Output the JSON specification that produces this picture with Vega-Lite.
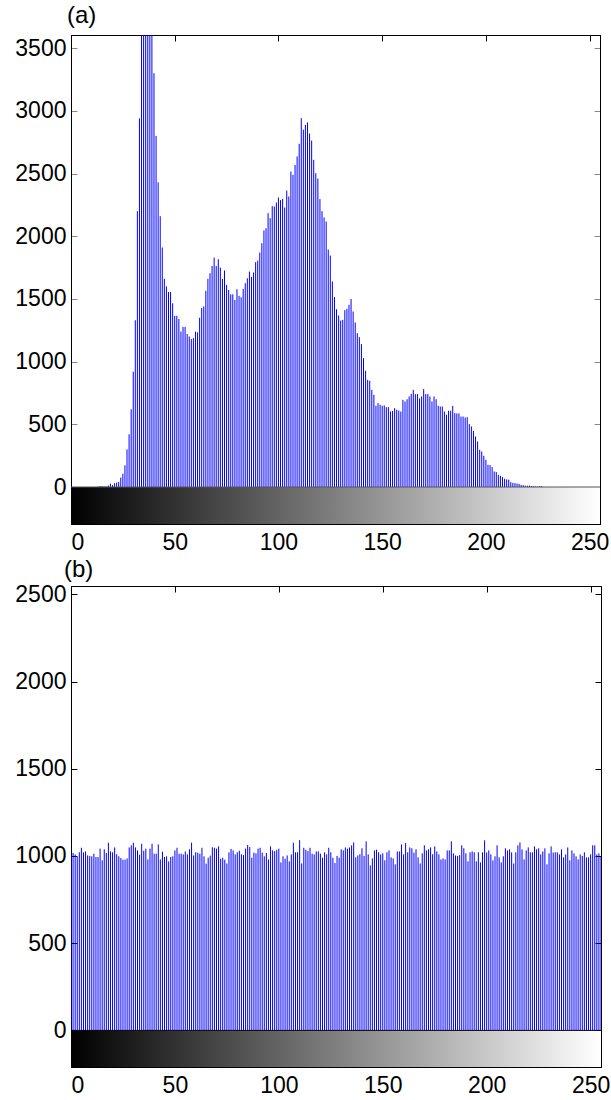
{
  "$schema": "https://vega.github.io/schema/vega-lite/v6.json",
  "background": "white",
  "padding": {"left": 14, "right": 0, "top": 3, "bottom": 2},
  "spacing": 2,
  "config": {
    "font": "Liberation Sans",
    "view": {"stroke": "black", "strokeWidth": 1},
    "axis": {"labelFont": "Liberation Sans", "labelFontSize": 23, "labelColor": "#000", "domainColor": "#000", "tickColor": "#000", "tickSize": -6, "grid": false, "labelPadding": 11, "format": "d"},
    "title": {"font": "Liberation Sans", "fontSize": 24, "fontWeight": "normal", "anchor": "start", "color": "#000", "frame": "group"}
  },
  "datasets": {
    "a": [
      {"level":0,"count":0},{"level":1,"count":0},{"level":2,"count":0},{"level":3,"count":0},{"level":4,"count":0},{"level":5,"count":0},{"level":6,"count":0},{"level":7,"count":0},{"level":8,"count":0},{"level":9,"count":0},
      {"level":10,"count":0},{"level":11,"count":0},{"level":12,"count":0},{"level":13,"count":3},{"level":14,"count":8},{"level":15,"count":8},{"level":16,"count":4},{"level":17,"count":5},{"level":18,"count":12},{"level":19,"count":27},
      {"level":20,"count":15},{"level":21,"count":30},{"level":22,"count":35},{"level":23,"count":40},{"level":24,"count":75},{"level":25,"count":106},{"level":26,"count":173},{"level":27,"count":300},{"level":28,"count":420},{"level":29,"count":620},
      {"level":30,"count":920},{"level":31,"count":1330},{"level":32,"count":2200},{"level":33,"count":2940},{"level":34,"count":3900},{"level":35,"count":4000},{"level":36,"count":4200},{"level":37,"count":4100},{"level":38,"count":3950},{"level":39,"count":3800},
      {"level":40,"count":3300},{"level":41,"count":2800},{"level":42,"count":2430},{"level":43,"count":2160},{"level":44,"count":1910},{"level":45,"count":1660},{"level":46,"count":1600},{"level":47,"count":1555},{"level":48,"count":1555},{"level":49,"count":1465},
      {"level":50,"count":1365},{"level":51,"count":1365},{"level":52,"count":1340},{"level":53,"count":1240},{"level":54,"count":1277},{"level":55,"count":1277},{"level":56,"count":1220},{"level":57,"count":1200},{"level":58,"count":1180},{"level":59,"count":1187},
      {"level":60,"count":1240},{"level":61,"count":1234},{"level":62,"count":1350},{"level":63,"count":1428},{"level":64,"count":1440},{"level":65,"count":1565},{"level":66,"count":1660},{"level":67,"count":1705},{"level":68,"count":1763},{"level":69,"count":1830},
      {"level":70,"count":1763},{"level":71,"count":1817},{"level":72,"count":1750},{"level":73,"count":1660},{"level":74,"count":1727},{"level":75,"count":1612},{"level":76,"count":1572},{"level":77,"count":1537},{"level":78,"count":1537},{"level":79,"count":1492},
      {"level":80,"count":1577},{"level":81,"count":1524},{"level":82,"count":1513},{"level":83,"count":1580},{"level":84,"count":1625},{"level":85,"count":1665},{"level":86,"count":1718},{"level":87,"count":1676},{"level":88,"count":1711},{"level":89,"count":1793},
      {"level":90,"count":1806},{"level":91,"count":1870},{"level":92,"count":1945},{"level":93,"count":2046},{"level":94,"count":2064},{"level":95,"count":2184},{"level":96,"count":2144},{"level":97,"count":2240},{"level":98,"count":2237},{"level":99,"count":2269},
      {"level":100,"count":2309},{"level":101,"count":2288},{"level":102,"count":2298},{"level":103,"count":2229},{"level":104,"count":2365},{"level":105,"count":2317},{"level":106,"count":2516},{"level":107,"count":2490},{"level":108,"count":2569},{"level":109,"count":2636},
      {"level":110,"count":2737},{"level":111,"count":2942},{"level":112,"count":2850},{"level":113,"count":2888},{"level":114,"count":2907},{"level":115,"count":2819},{"level":116,"count":2763},{"level":117,"count":2609},{"level":118,"count":2503},{"level":119,"count":2460},
      {"level":120,"count":2296},{"level":121,"count":2200},{"level":122,"count":2150},{"level":123,"count":2117},{"level":124,"count":1894},{"level":125,"count":1846},{"level":126,"count":1639},{"level":127,"count":1515},{"level":128,"count":1418},{"level":129,"count":1368},
      {"level":130,"count":1328},{"level":131,"count":1333},{"level":132,"count":1411},{"level":133,"count":1421},{"level":134,"count":1453},{"level":135,"count":1500},{"level":136,"count":1400},{"level":137,"count":1312},{"level":138,"count":1227},{"level":139,"count":1195},
      {"level":140,"count":1140},{"level":141,"count":1028},{"level":142,"count":927},{"level":143,"count":855},{"level":144,"count":847},{"level":145,"count":775},{"level":146,"count":735},{"level":147,"count":648},{"level":148,"count":669},{"level":149,"count":656},
      {"level":150,"count":648},{"level":151,"count":650},{"level":152,"count":637},{"level":153,"count":637},{"level":154,"count":602},{"level":155,"count":606},{"level":156,"count":629},{"level":157,"count":616},{"level":158,"count":610},{"level":159,"count":602},
      {"level":160,"count":695},{"level":161,"count":682},{"level":162,"count":700},{"level":163,"count":722},{"level":164,"count":743},{"level":165,"count":775},{"level":166,"count":741},{"level":167,"count":741},{"level":168,"count":706},{"level":169,"count":722},
      {"level":170,"count":781},{"level":171,"count":741},{"level":172,"count":741},{"level":173,"count":722},{"level":174,"count":682},{"level":175,"count":722},{"level":176,"count":700},{"level":177,"count":648},{"level":178,"count":642},{"level":179,"count":642},
      {"level":180,"count":602},{"level":181,"count":576},{"level":182,"count":608},{"level":183,"count":608},{"level":184,"count":647},{"level":185,"count":589},{"level":186,"count":587},{"level":187,"count":587},{"level":188,"count":562},{"level":189,"count":562},
      {"level":190,"count":554},{"level":191,"count":557},{"level":192,"count":502},{"level":193,"count":483},{"level":194,"count":448},{"level":195,"count":403},{"level":196,"count":363},{"level":197,"count":297},{"level":198,"count":283},{"level":199,"count":249},
      {"level":200,"count":217},{"level":201,"count":177},{"level":202,"count":175},{"level":203,"count":159},{"level":204,"count":124},{"level":205,"count":119},{"level":206,"count":97},{"level":207,"count":89},{"level":208,"count":79},{"level":209,"count":66},
      {"level":210,"count":61},{"level":211,"count":59},{"level":212,"count":39},{"level":213,"count":33},{"level":214,"count":31},{"level":215,"count":28},{"level":216,"count":25},{"level":217,"count":17},{"level":218,"count":15},{"level":219,"count":11},
      {"level":220,"count":11},{"level":221,"count":11},{"level":222,"count":8},{"level":223,"count":6},{"level":224,"count":5},{"level":225,"count":4},{"level":226,"count":8},{"level":227,"count":8},{"level":228,"count":0},{"level":229,"count":0},
      {"level":230,"count":0},{"level":231,"count":0},{"level":232,"count":0},{"level":233,"count":0},{"level":234,"count":0},{"level":235,"count":0},{"level":236,"count":0},{"level":237,"count":0},{"level":238,"count":0},{"level":239,"count":0},
      {"level":240,"count":0},{"level":241,"count":0},{"level":242,"count":0},{"level":243,"count":0},{"level":244,"count":0},{"level":245,"count":0},{"level":246,"count":0},{"level":247,"count":0},{"level":248,"count":0},{"level":249,"count":0},
      {"level":250,"count":0},{"level":251,"count":0},{"level":252,"count":0},{"level":253,"count":0},{"level":254,"count":0},{"level":255,"count":0}
    ],
    "b": [
      {"level":0,"count":1013},{"level":1,"count":1017},{"level":2,"count":1009},{"level":3,"count":994},{"level":4,"count":1021},{"level":5,"count":1047},{"level":6,"count":1021},{"level":7,"count":1026},{"level":8,"count":1003},{"level":9,"count":1000},
      {"level":10,"count":998},{"level":11,"count":1013},{"level":12,"count":994},{"level":13,"count":994},{"level":14,"count":1042},{"level":15,"count":975},{"level":16,"count":1038},{"level":17,"count":1017},{"level":18,"count":1076},{"level":19,"count":1026},
      {"level":20,"count":1021},{"level":21,"count":1049},{"level":22,"count":1010},{"level":23,"count":998},{"level":24,"count":988},{"level":25,"count":979},{"level":26,"count":979},{"level":27,"count":986},{"level":28,"count":1049},{"level":29,"count":1061},
      {"level":30,"count":1076},{"level":31,"count":1049},{"level":32,"count":1032},{"level":33,"count":1007},{"level":34,"count":1070},{"level":35,"count":1030},{"level":36,"count":1042},{"level":37,"count":980},{"level":38,"count":1042},{"level":39,"count":1070},
      {"level":40,"count":1013},{"level":41,"count":1013},{"level":42,"count":1066},{"level":43,"count":980},{"level":44,"count":1025},{"level":45,"count":994},{"level":46,"count":998},{"level":47,"count":969},{"level":48,"count":994},{"level":49,"count":998},
      {"level":50,"count":1032},{"level":51,"count":1047},{"level":52,"count":1013},{"level":53,"count":1013},{"level":54,"count":1009},{"level":55,"count":1026},{"level":56,"count":1009},{"level":57,"count":1038},{"level":58,"count":1076},{"level":59,"count":1003},
      {"level":60,"count":1021},{"level":61,"count":1019},{"level":62,"count":1013},{"level":63,"count":1047},{"level":64,"count":998},{"level":65,"count":956},{"level":66,"count":990},{"level":67,"count":1002},{"level":68,"count":1050},{"level":69,"count":1047},
      {"level":70,"count":1042},{"level":71,"count":1055},{"level":72,"count":984},{"level":73,"count":990},{"level":74,"count":979},{"level":75,"count":957},{"level":76,"count":1021},{"level":77,"count":1040},{"level":78,"count":1032},{"level":79,"count":1009},
      {"level":80,"count":1021},{"level":81,"count":1030},{"level":82,"count":1009},{"level":83,"count":1005},{"level":84,"count":1042},{"level":85,"count":1063},{"level":86,"count":1051},{"level":87,"count":990},{"level":88,"count":1019},{"level":89,"count":1015},
      {"level":90,"count":1042},{"level":91,"count":1047},{"level":92,"count":1019},{"level":93,"count":998},{"level":94,"count":1017},{"level":95,"count":980},{"level":96,"count":1055},{"level":97,"count":1032},{"level":98,"count":1028},{"level":99,"count":1036},
      {"level":100,"count":1042},{"level":101,"count":963},{"level":102,"count":998},{"level":103,"count":984},{"level":104,"count":1003},{"level":105,"count":969},{"level":106,"count":1009},{"level":107,"count":1076},{"level":108,"count":1021},{"level":109,"count":1021},
      {"level":110,"count":1091},{"level":111,"count":957},{"level":112,"count":1047},{"level":113,"count":1036},{"level":114,"count":1028},{"level":115,"count":1047},{"level":116,"count":1013},{"level":117,"count":1009},{"level":118,"count":1026},{"level":119,"count":1026},
      {"level":120,"count":1013},{"level":121,"count":990},{"level":122,"count":1021},{"level":123,"count":1009},{"level":124,"count":1047},{"level":125,"count":1021},{"level":126,"count":990},{"level":127,"count":960},{"level":128,"count":1000},{"level":129,"count":990},
      {"level":130,"count":1038},{"level":131,"count":1032},{"level":132,"count":1049},{"level":133,"count":1042},{"level":134,"count":1049},{"level":135,"count":1061},{"level":136,"count":1078},{"level":137,"count":992},{"level":138,"count":1003},{"level":139,"count":1010},
      {"level":140,"count":1044},{"level":141,"count":1000},{"level":142,"count":1084},{"level":143,"count":1009},{"level":144,"count":946},{"level":145,"count":986},{"level":146,"count":1032},{"level":147,"count":1036},{"level":148,"count":1021},{"level":149,"count":1009},
      {"level":150,"count":1015},{"level":151,"count":975},{"level":152,"count":1021},{"level":153,"count":1032},{"level":154,"count":992},{"level":155,"count":986},{"level":156,"count":952},{"level":157,"count":1026},{"level":158,"count":1026},{"level":159,"count":1066},
      {"level":160,"count":1009},{"level":161,"count":1074},{"level":162,"count":1021},{"level":163,"count":1049},{"level":164,"count":1044},{"level":165,"count":1019},{"level":166,"count":1038},{"level":167,"count":992},{"level":168,"count":957},{"level":169,"count":1015},
      {"level":170,"count":1061},{"level":171,"count":1032},{"level":172,"count":1038},{"level":173,"count":1049},{"level":174,"count":1010},{"level":175,"count":1055},{"level":176,"count":1026},{"level":177,"count":1009},{"level":178,"count":980},{"level":179,"count":986},
      {"level":180,"count":980},{"level":181,"count":1032},{"level":182,"count":1032},{"level":183,"count":1084},{"level":184,"count":1015},{"level":185,"count":1003},{"level":186,"count":1000},{"level":187,"count":1005},{"level":188,"count":1061},{"level":189,"count":1044},
      {"level":190,"count":1015},{"level":191,"count":969},{"level":192,"count":1021},{"level":193,"count":1026},{"level":194,"count":1021},{"level":195,"count":969},{"level":196,"count":1021},{"level":197,"count":963},{"level":198,"count":1021},{"level":199,"count":1090},
      {"level":200,"count":1020},{"level":201,"count":1032},{"level":202,"count":1009},{"level":203,"count":975},{"level":204,"count":998},{"level":205,"count":1061},{"level":206,"count":992},{"level":207,"count":963},{"level":208,"count":998},{"level":209,"count":1044},
      {"level":210,"count":1032},{"level":211,"count":1038},{"level":212,"count":1021},{"level":213,"count":957},{"level":214,"count":1021},{"level":215,"count":1061},{"level":216,"count":1078},{"level":217,"count":1038},{"level":218,"count":980},{"level":219,"count":1032},
      {"level":220,"count":1049},{"level":221,"count":1021},{"level":222,"count":1021},{"level":223,"count":1055},{"level":224,"count":1038},{"level":225,"count":1044},{"level":226,"count":1009},{"level":227,"count":1026},{"level":228,"count":1044},{"level":229,"count":952},
      {"level":230,"count":1015},{"level":231,"count":1055},{"level":232,"count":1020},{"level":233,"count":1021},{"level":234,"count":1021},{"level":235,"count":1009},{"level":236,"count":1038},{"level":237,"count":992},{"level":238,"count":1009},{"level":239,"count":1049},
      {"level":240,"count":975},{"level":241,"count":1032},{"level":242,"count":1015},{"level":243,"count":998},{"level":244,"count":980},{"level":245,"count":1009},{"level":246,"count":1000},{"level":247,"count":1021},{"level":248,"count":992},{"level":249,"count":992},
      {"level":250,"count":1009},{"level":251,"count":1061},{"level":252,"count":1061},{"level":253,"count":1009},{"level":254,"count":1015},{"level":255,"count":1000}
    ]
  },
  "vconcat": [
    {
      "width": 529,
      "height": 489,
      "title": {"text": "(a)", "dx": -4, "offset": 7},
      "resolve": {"axis": {"x": "independent", "y": "independent"}},
      "layer": [
        {
          "data": {"values": [{}]},
          "mark": {"type": "rect", "fill": {"gradient": "linear", "x1": 0, "y1": 0, "x2": 1, "y2": 0, "stops": [{"offset": 0, "color": "#000000"}, {"offset": 1, "color": "#ffffff"}]}},
          "encoding": {
            "x": {"datum": 0, "type": "quantitative", "scale": {"domain": [0, 255], "nice": false, "zero": false}, "axis": {"orient": "bottom", "values": [0, 50, 100, 150, 200, 250], "title": null, "labelPadding": 13}},
            "x2": {"datum": 255},
            "y": {"datum": -295, "type": "quantitative", "scale": {"domain": [-295, 3605], "nice": false, "zero": false}, "axis": {"orient": "left", "values": [0, 500, 1000, 1500, 2000, 2500, 3000, 3500], "title": null, "tickColor": "#888"}},
            "y2": {"datum": 0}
          }
        },
        {
          "data": {"name": "a"},
          "mark": {"type": "rule", "color": "#0000ff", "strokeWidth": 1, "clip": true},
          "encoding": {
            "x": {"field": "level", "type": "quantitative", "scale": {"domain": [0, 255], "nice": false, "zero": false}, "axis": null},
            "y": {"field": "count", "type": "quantitative", "scale": {"domain": [-295, 3605], "nice": false, "zero": false}, "axis": null},
            "y2": {"datum": 0}
          }
        },
        {
          "data": {"values": [{}]},
          "mark": {"type": "rule", "color": "#555555", "strokeWidth": 1},
          "encoding": {
            "x": {"datum": 0, "type": "quantitative", "scale": {"domain": [0, 255], "nice": false, "zero": false}, "axis": {"orient": "top", "values": [0, 50, 100, 150, 200, 250], "labels": false, "title": null}},
            "x2": {"datum": 255},
            "y": {"datum": 0, "type": "quantitative", "scale": {"domain": [-295, 3605], "nice": false, "zero": false}, "axis": {"orient": "right", "values": [0, 500, 1000, 1500, 2000, 2500, 3000, 3500], "labels": false, "title": null, "tickColor": "#888"}}
          }
        }
      ]
    },
    {
      "width": 530,
      "height": 481,
      "title": {"text": "(b)", "dx": -7, "offset": 1},
      "resolve": {"axis": {"x": "independent", "y": "independent"}},
      "layer": [
        {
          "data": {"values": [{}]},
          "mark": {"type": "rect", "fill": {"gradient": "linear", "x1": 0, "y1": 0, "x2": 1, "y2": 0, "stops": [{"offset": 0, "color": "#000000"}, {"offset": 1, "color": "#ffffff"}]}},
          "encoding": {
            "x": {"datum": 0, "type": "quantitative", "scale": {"domain": [0, 255], "nice": false, "zero": false}, "axis": {"orient": "bottom", "values": [0, 50, 100, 150, 200, 250], "title": null, "labelPadding": 13}},
            "x2": {"datum": 255},
            "y": {"datum": -210, "type": "quantitative", "scale": {"domain": [-210, 2548], "nice": false, "zero": false}, "axis": {"orient": "left", "values": [0, 500, 1000, 1500, 2000, 2500], "title": null}},
            "y2": {"datum": 0}
          }
        },
        {
          "data": {"name": "b"},
          "mark": {"type": "rule", "color": "#0000ff", "strokeWidth": 1, "clip": true},
          "encoding": {
            "x": {"field": "level", "type": "quantitative", "scale": {"domain": [0, 255], "nice": false, "zero": false}, "axis": null},
            "y": {"field": "count", "type": "quantitative", "scale": {"domain": [-210, 2548], "nice": false, "zero": false}, "axis": null},
            "y2": {"datum": 0}
          }
        },
        {
          "data": {"values": [{}]},
          "mark": {"type": "rule", "color": "#000000", "strokeWidth": 1},
          "encoding": {
            "x": {"datum": 0, "type": "quantitative", "scale": {"domain": [0, 255], "nice": false, "zero": false}, "axis": {"orient": "top", "values": [0, 50, 100, 150, 200, 250], "labels": false, "title": null}},
            "x2": {"datum": 255},
            "y": {"datum": 0, "type": "quantitative", "scale": {"domain": [-210, 2548], "nice": false, "zero": false}, "axis": {"orient": "right", "values": [0, 500, 1000, 1500, 2000, 2500], "labels": false, "title": null}}
          }
        }
      ]
    }
  ]
}
